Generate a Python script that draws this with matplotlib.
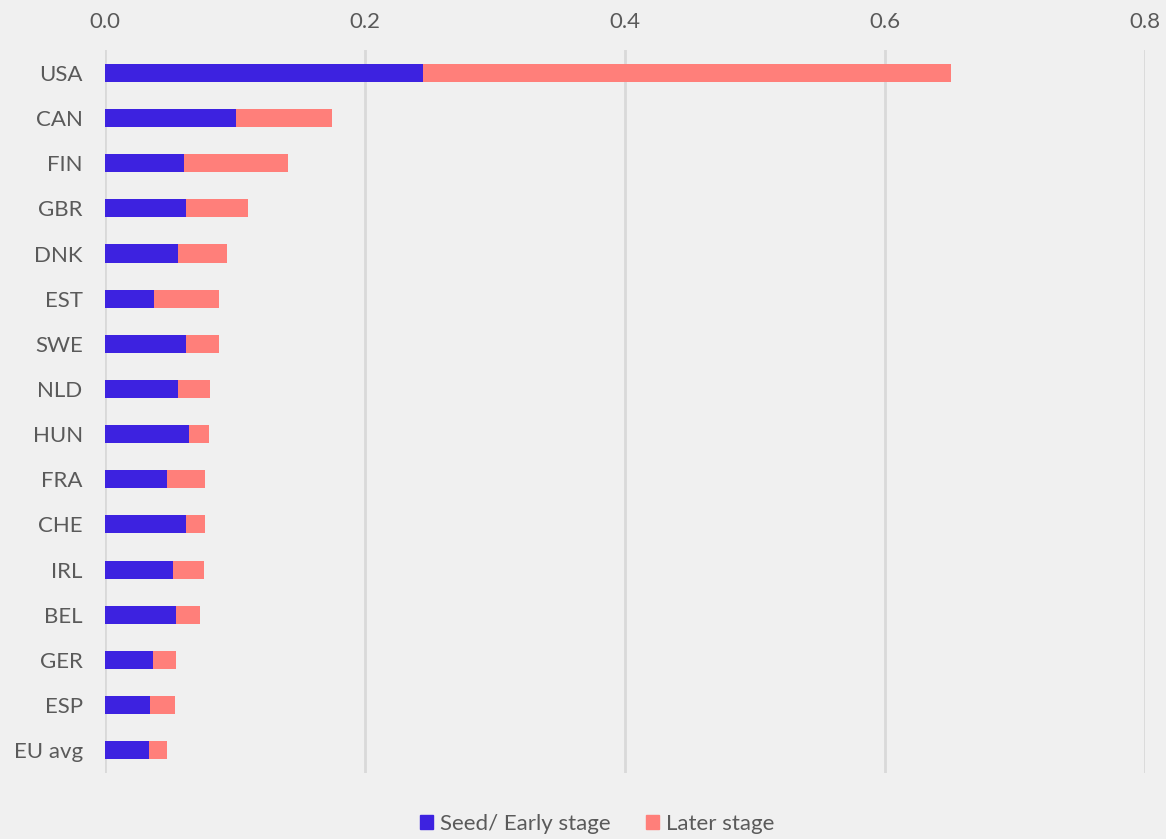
import matplotlib.pyplot as plt
from matplotlib.patches import Patch

# values
countries = ['USA', 'CAN', 'FIN', 'GBR', 'DNK', 'EST', 'SWE', 'NLD', 'HUN',
             'FRA', 'CHE', 'IRL', 'BEL', 'GER', 'ESP', 'EU avg']
seed_early = [0.245, 0.101, 0.061, 0.062, 0.056, 0.038, 0.062, 0.056, 0.065,
              0.048, 0.062, 0.052, 0.055, 0.037, 0.035, 0.034]
later = [0.406, 0.074, 0.080, 0.048, 0.038, 0.050, 0.026, 0.025, 0.015,
         0.029, 0.015, 0.024, 0.018, 0.018, 0.019, 0.014]
xticks = [0.0, 0.2, 0.4, 0.6, 0.8]

blue = '#3d22e0'
salmon = '#ff7f7a'
bg = '#f0f0f0'
txt = '#5a5a5a'

plt.rcParams['font.family'] = ['Lato', 'DejaVu Sans']

fig = plt.figure(figsize=(11.66, 8.39), dpi=100, facecolor=bg)
ax = fig.add_axes([0.090, 0.079, 0.892, 0.861], facecolor=bg)

y = list(range(len(countries)))
ax.barh(y, seed_early, height=0.4, color=blue, zorder=3)
ax.barh(y, later, left=seed_early, height=0.4, color=salmon, zorder=3)

ax.set_xlim(0, 0.8)
ax.set_ylim(len(countries) - 0.5, -0.5)
ax.set_yticks(y)
ax.set_yticklabels(countries)
ax.set_xticks(xticks)
ax.set_xticklabels([f'{v:.1f}' for v in xticks])

ax.xaxis.tick_top()
ax.tick_params(axis='x', length=0, pad=13, labelsize=16, labelcolor=txt)
ax.tick_params(axis='y', length=0, pad=16, labelsize=16, labelcolor=txt)

ax.grid(axis='x', color='#d9d9d9', linewidth=2, zorder=0)
for s in ax.spines.values():
    s.set_visible(False)

handles = [Patch(color=blue, label='Seed/ Early stage'),
           Patch(color=salmon, label='Later stage')]
leg = fig.legend(handles=handles, loc='lower center', ncol=2, frameon=False,
                 bbox_to_anchor=(0.512, -0.018), fontsize=16, handlelength=0.6,
                 handleheight=0.6, handletextpad=0.3, columnspacing=1.6)
for t in leg.get_texts():
    t.set_color(txt)

fig.savefig('out.png', dpi=100, facecolor=bg)
